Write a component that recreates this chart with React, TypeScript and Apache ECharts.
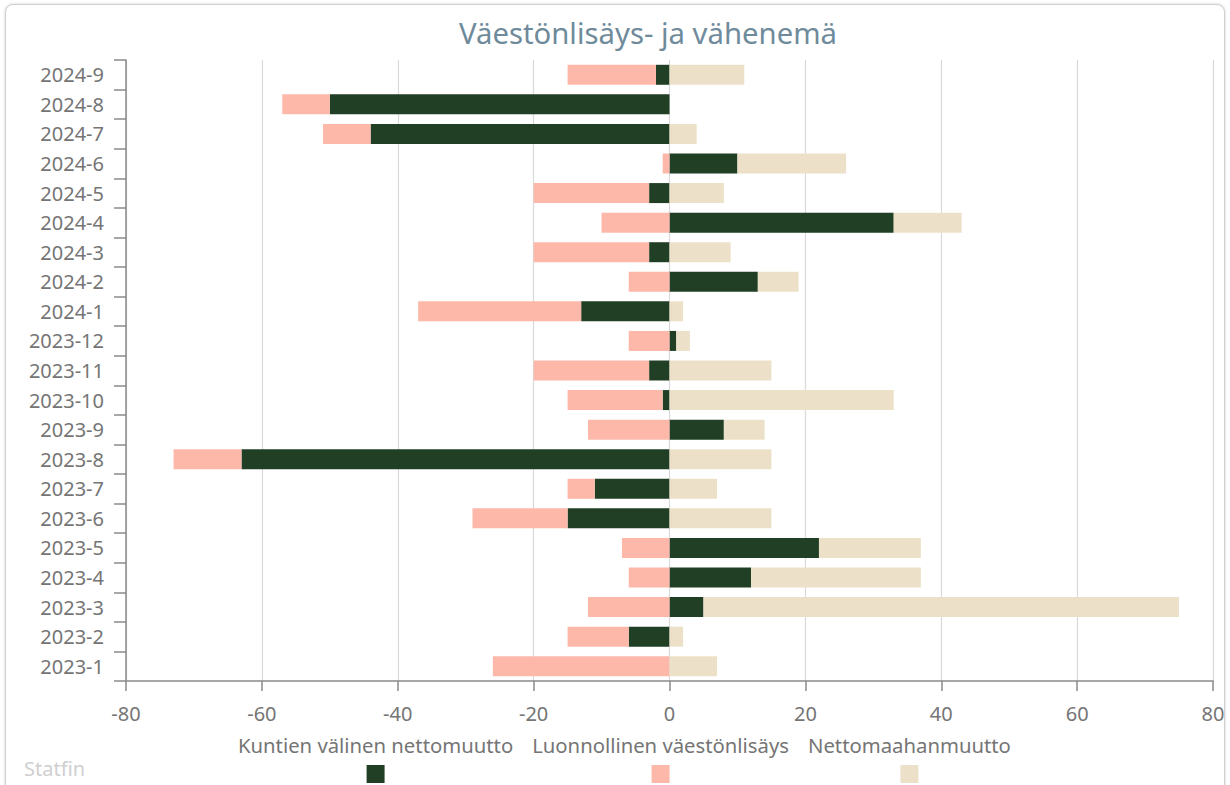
import React, { useEffect, useRef } from "react";
import * as echarts from "echarts";

const categories = [
  "2023-1", "2023-2", "2023-3", "2023-4", "2023-5", "2023-6", "2023-7",
  "2023-8", "2023-9", "2023-10", "2023-11", "2023-12",
  "2024-1", "2024-2", "2024-3", "2024-4", "2024-5", "2024-6", "2024-7",
  "2024-8", "2024-9",
];

const seriesNames = [
  "Kuntien välinen nettomuutto",
  "Luonnollinen väestönlisäys",
  "Nettomaahanmuutto",
];

const kuntienValinen = [0, -6, 5, 12, 22, -15, -11, -63, 8, -1, -3, 1, -13, 13, -3, 33, -3, 10, -44, -50, -2];
const luonnollinen = [-26, -9, -12, -6, -7, -14, -4, -10, -12, -14, -17, -6, -24, -6, -17, -10, -17, -1, -7, -7, -13];
const nettomaahanmuutto = [7, 2, 70, 25, 15, 15, 7, 15, 6, 33, 15, 2, 2, 6, 9, 10, 8, 16, 4, 0, 11];

const xTicks = { min: -80, max: 80, interval: 20 };

const colors = ["#213f25", "#fdb8aa", "#ece1c8"];
const FONT = "'Noto Sans', 'Open Sans', sans-serif";

export default function App() {
  const ref = useRef<HTMLDivElement>(null);

  useEffect(() => {
    document.body.style.margin = "0";
    document.body.style.overflow = "hidden";
    if (!ref.current) return;
    const chart = echarts.init(ref.current, undefined, { renderer: "svg" });
    const dataSets = [kuntienValinen, luonnollinen, nettomaahanmuutto];
    const rich: Record<string, any> = {
      t: {
        fontSize: 20.3,
        fontFamily: FONT,
        color: "#757575",
        align: "center",
        lineHeight: 26,
      },
    };
    colors.forEach((c, i) => {
      rich["i" + i] = {
        backgroundColor: c,
        width: 18,
        height: 18,
        align: "center",
        lineHeight: 32,
      };
    });
    chart.setOption({
      animation: false,
      color: colors,
      grid: { left: 126, right: 17, top: 60, bottom: 104, containLabel: false },
      graphic: [
        {
          type: "text",
          x: 648,
          y: 33,
          style: {
            text: "Väestönlisäys- ja vähenemä",
            textAlign: "center",
            textVerticalAlign: "middle",
            fontSize: 29.3,
            fontFamily: FONT,
            fill: "#6f8b9b",
          },
        },
        {
          type: "text",
          x: 24,
          y: 768,
          style: {
            text: "Statfin",
            textAlign: "left",
            textVerticalAlign: "middle",
            fontSize: 20,
            fontFamily: FONT,
            fill: "#cfcfcf",
          },
        },
      ],
      legend: {
        data: seriesNames,
        left: 228,
        top: 730,
        icon: "none",
        itemWidth: 0,
        itemHeight: 0,
        itemGap: 14,
        selectedMode: false,
        formatter: (name: string) => `{t|${name}}\n{i${seriesNames.indexOf(name)}|}`,
        textStyle: { rich },
      },
      xAxis: {
        type: "value",
        min: xTicks.min,
        max: xTicks.max,
        interval: xTicks.interval,
        axisLine: { show: true, lineStyle: { color: "#8a8a8a", width: 1.5 } },
        axisTick: { show: true, length: 10, lineStyle: { color: "#8a8a8a", width: 1.5 } },
        splitLine: { show: true, lineStyle: { color: "#d9d9d9", width: 1.2 } },
        axisLabel: { fontSize: 20, fontFamily: FONT, color: "#757575", margin: 22 },
      },
      yAxis: {
        type: "category",
        data: categories,
        axisLine: { show: true, onZero: false, lineStyle: { color: "#8a8a8a", width: 1.5 } },
        axisTick: { show: true, length: 12, lineStyle: { color: "#8a8a8a", width: 1.5 } },
        splitLine: { show: false },
        axisLabel: { fontSize: 20, fontFamily: FONT, color: "#757575", margin: 22 },
      },
      series: seriesNames.map((name, i) => ({
        name,
        type: "bar",
        stack: "total",
        data: dataSets[i],
        barWidth: 20,
        itemStyle: { color: colors[i] },
      })),
    });
    return () => chart.dispose();
  }, []);

  return (
    <div style={{ position: "relative", width: 1230, height: 785, overflow: "hidden", background: "#fff" }}>
      <div
        style={{
          position: "absolute",
          left: 5,
          top: 4,
          width: 1220,
          height: 800,
          border: "1px solid #cfcfcf",
          borderRadius: 8,
          boxShadow: "0 0 3px rgba(0,0,0,0.18)",
          background: "#fff",
          boxSizing: "border-box",
        }}
      />
      <div ref={ref} style={{ position: "absolute", left: 0, top: 0, width: 1230, height: 785 }} />
    </div>
  );
}
